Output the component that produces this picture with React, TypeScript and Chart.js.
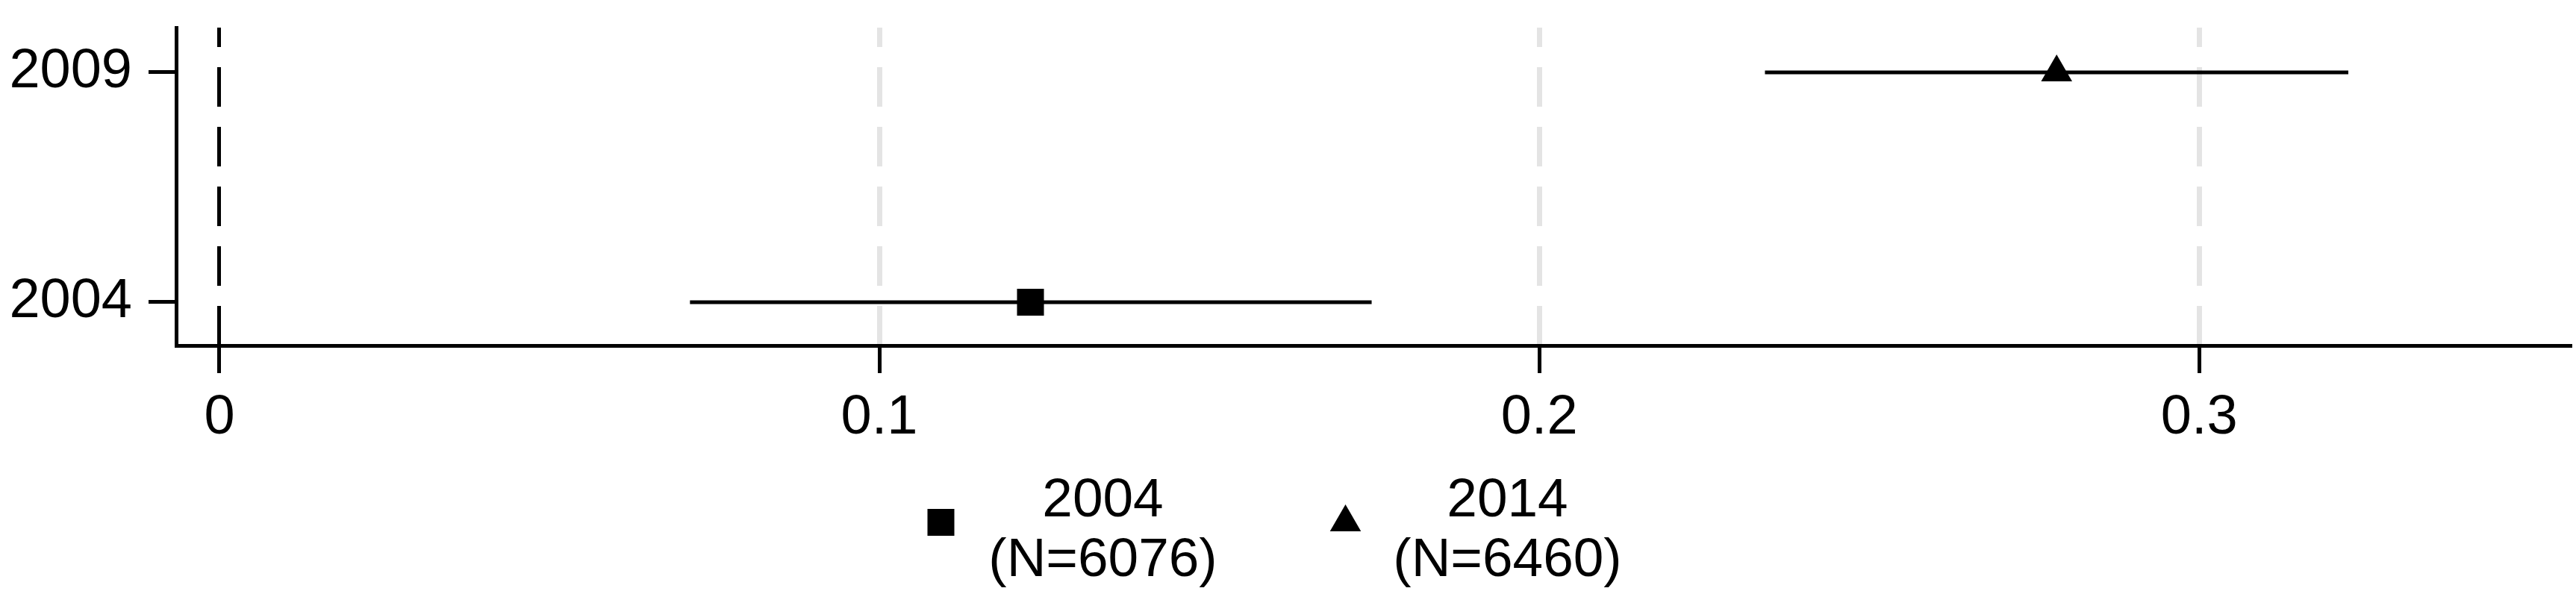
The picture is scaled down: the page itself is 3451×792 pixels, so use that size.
import React, { useEffect, useRef } from 'react';
import { Chart, registerables } from 'chart.js';

Chart.register(...registerables);

// ---- data ----
const rowValues = [2004, 2009];
const rowLabels = ['2004', '2009'];
const seriesNames = ['2004', '2014'];
const seriesNotes = ['(N=6076)', '(N=6460)'];
const seriesRow = [2004, 2009];
const pointEstimates = [0.1229, 0.2784];
const ciLower = [0.0713, 0.2342];
const ciUpper = [0.1746, 0.3226];
const xTickValues = [0, 0.1, 0.2, 0.3];
const xTickLabels = ['0', '0.1', '0.2', '0.3'];
const markerStyles = ['rect', 'triangle'];
const markerRadius = [25.5, 24];

const FONT = '"Liberation Sans", Arial, Helvetica, sans-serif';
const W = 3451;
const H = 792;

const legendPlugin = {
  id: 'stataLegend',
  afterDraw(chart: any) {
    const ctx = chart.ctx as CanvasRenderingContext2D;
    const cx = chart.width / 2 - 18;
    ctx.save();
    for (let i = 0; i < seriesNames.length; i++) {
      const mx = cx - 447 + 542 * i;
      const my = 700;
      ctx.fillStyle = '#000';
      ctx.beginPath();
      if (markerStyles[i] === 'rect') {
        const s = 18;
        ctx.rect(mx - s, my - s, 2 * s, 2 * s);
      } else {
        const r = markerRadius[i];
        ctx.moveTo(mx, my - r);
        ctx.lineTo(mx + r * 0.866, my + r * 0.5);
        ctx.lineTo(mx - r * 0.866, my + r * 0.5);
        ctx.closePath();
      }
      ctx.fill();
      ctx.font = `73px ${FONT}`;
      ctx.textAlign = 'center';
      ctx.textBaseline = 'alphabetic';
      const tx = mx + 217;
      ctx.fillText(seriesNames[i], tx, 692);
      ctx.fillText(seriesNotes[i], tx, 772);
    }
    ctx.restore();
  },
};

export default function App() {
  const ref = useRef<HTMLCanvasElement>(null);

  useEffect(() => {
    if (!ref.current) return;
    const datasets: any[] = [];
    for (let i = 0; i < seriesNames.length; i++) {
      datasets.push({
        label: seriesNames[i] + ' CI',
        data: [
          { x: ciLower[i], y: seriesRow[i] },
          { x: ciUpper[i], y: seriesRow[i] },
        ],
        showLine: true,
        borderColor: '#000',
        borderWidth: 5,
        pointRadius: 0,
        pointHoverRadius: 0,
        borderCapStyle: 'butt',
        clip: false,
        order: 2,
      });
    }
    for (let i = 0; i < seriesNames.length; i++) {
      datasets.push({
        label: seriesNames[i],
        data: [{ x: pointEstimates[i], y: seriesRow[i] }],
        showLine: false,
        pointStyle: markerStyles[i],
        pointRadius: markerRadius[i],
        pointHoverRadius: markerRadius[i],
        backgroundColor: '#000',
        borderColor: '#000',
        borderWidth: 0,
        clip: false,
        order: 1,
      });
    }

    const chart = new Chart(ref.current, {
      type: 'scatter',
      data: { datasets },
      plugins: [legendPlugin],
      options: {
        animation: false,
        responsive: false,
        maintainAspectRatio: false,
        devicePixelRatio: 1,
        layout: { autoPadding: false, padding: { top: 37, right: 8, left: 0, bottom: 0 } },
        plugins: {
          legend: { display: false },
          tooltip: { enabled: false },
        },
        scales: {
          x: {
            type: 'linear',
            position: 'bottom',
            min: -0.00656,
            max: 0.3562,
            afterBuildTicks: (s: any) => {
              s.ticks = xTickValues.map((v) => ({ value: v }));
            },
            afterFit: (s: any) => {
              s.height = H - 463;
              s.paddingLeft = 0;
              s.paddingRight = 0;
            },
            grid: {
              display: true,
              drawOnChartArea: true,
              drawTicks: true,
              color: (c: any) => (c.tick && c.tick.value === 0 ? '#000' : '#e4e4e4'),
              lineWidth: (c: any) => (c.tick && c.tick.value === 0 ? 5 : 7),
              tickColor: '#000',
              tickWidth: 5,
              tickLength: 37,
            },
            border: { display: true, color: '#000', width: 5, dash: [53, 27], dashOffset: 27 },
            ticks: {
              color: '#000',
              font: { family: FONT, size: 74 },
              padding: 16,
              maxRotation: 0,
              autoSkip: false,
              callback: (v: any) => {
                const k = xTickValues.indexOf(Number(v));
                return k >= 0 ? xTickLabels[k] : '';
              },
            },
          },
          y: {
            type: 'linear',
            position: 'left',
            min: 2003.058,
            max: 2009.974,
            afterBuildTicks: (s: any) => {
              s.ticks = rowValues.map((v) => ({ value: v }));
            },
            afterFit: (s: any) => {
              s.width = 236;
              s.paddingTop = 0;
              s.paddingBottom = 0;
            },
            grid: {
              display: true,
              drawOnChartArea: false,
              drawTicks: true,
              tickColor: '#000',
              tickWidth: 5,
              tickLength: 37,
            },
            border: { display: true, color: '#000', width: 5 },
            ticks: {
              color: '#000',
              font: { family: FONT, size: 74 },
              padding: 22,
              autoSkip: false,
              callback: (v: any) => {
                const k = rowValues.indexOf(Number(v));
                return k >= 0 ? rowLabels[k] : '';
              },
            },
          },
        },
      } as any,
    });
    return () => chart.destroy();
  }, []);

  return (
    <div style={{ position: 'fixed', left: 0, top: 0, width: W, height: H, background: '#fff' }}>
      <canvas ref={ref} width={W} height={H} style={{ display: 'block', width: W, height: H }} />
    </div>
  );
}
